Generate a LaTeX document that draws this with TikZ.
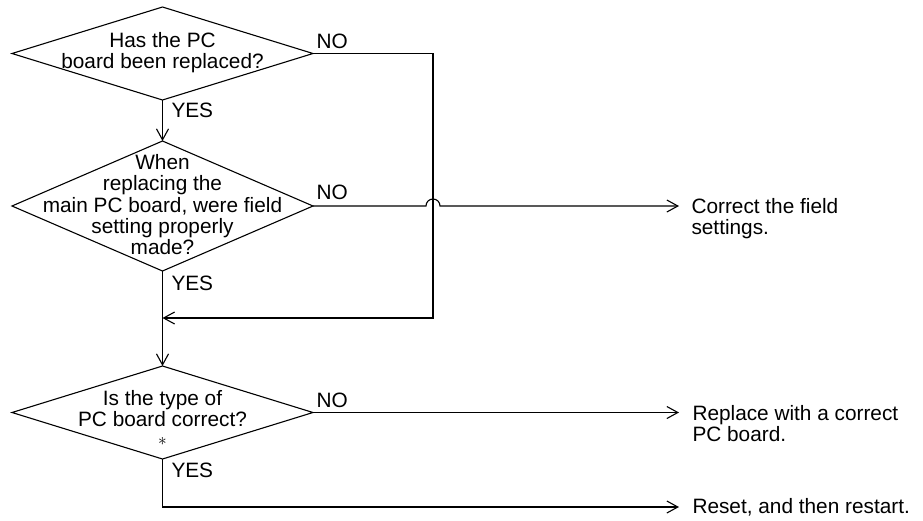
\documentclass[tikz,border=0pt]{standalone}
\usepackage{fontspec}
\setmainfont{Liberation Sans}
\usetikzlibrary{shapes.geometric,arrows.meta}

\tikzset{
  txt/.style={font=\fontsize{20.8}{20.8}\selectfont, inner sep=0pt, outer sep=0pt},
  decision/.style={draw, line width=1.1pt, shape=diamond, inner sep=0pt, outer sep=0pt,
    minimum width=301pt},
  flow/.style={line width=1.1pt},
  arr/.style={flow, -{Straight Barb[length=11pt,width=12pt,line width=1.1pt]}},
}

\begin{document}
\begin{tikzpicture}[x=1pt,y=-1pt]
  \useasboundingbox (0,0) rectangle (923,520);

  % decisions
  \node[decision, minimum height=93pt]  (d1) at (162.5,53.5) {};
  \node[decision, minimum height=130pt] (d2) at (162.5,206) {};
  \node[decision, minimum height=93pt]  (d3) at (162.5,412.5) {};

  % questions
  \node[txt, anchor=base] (q1) at (162.5,47)
    {\begin{tabular}[t]{@{}c@{}}Has the PC\\board been replaced?\end{tabular}};
  \node[txt, anchor=base] (q2) at (162.5,169.5)
    {\begin{tabular}[t]{@{}c@{}}When\\replacing the\\main PC board, were field\\setting properly\\made?\end{tabular}};
  \node[txt, anchor=base] (q3) at (162.5,405)
    {\begin{tabular}[t]{@{}c@{}}Is the type of\\PC board correct?\\[-1.5pt]{\fontsize{16}{16}\selectfont$\ast$}\end{tabular}};

  % branch labels
  \node[txt, anchor=base west] (no1)  at (316.5,48)  {NO};
  \node[txt, anchor=base west] (no2)  at (316.5,199) {NO};
  \node[txt, anchor=base west] (no3)  at (316.5,407) {NO};
  \node[txt, anchor=base west] (yes1) at (171.5,117) {YES};
  \node[txt, anchor=base west] (yes2) at (171.5,290) {YES};
  \node[txt, anchor=base west] (yes3) at (171.5,477) {YES};

  % actions
  \node[txt, anchor=base west] (a1) at (691.5,213)
    {\begin{tabular}[t]{@{}l@{}}Correct the field\\settings.\end{tabular}};
  \node[txt, anchor=base west] (a2) at (692.5,420.5)
    {\begin{tabular}[t]{@{}l@{}}Replace with a correct\\PC board.\end{tabular}};
  \node[txt, anchor=base west] (a3) at (692.5,513)
    {Reset, and then restart.};

  % arrow ends and routing points
  \coordinate (e1)    at (679,206);
  \coordinate (e2)    at (679,412.5);
  \coordinate (e3)    at (679,507);
  \coordinate (bus)   at (433,53.5);
  \coordinate (merge) at (162.5,318);
  \coordinate (cross) at (433,206);

  % YES paths
  \draw[arr] (d1.south) -- (d2.north);
  \draw[arr] (d2.south) -- (d3.north);
  \draw[arr] (d3.south) |- (e3);

  % NO of the first question joins the main line
  \draw[arr] (d1.east) -- (bus) |- (merge);

  % NO of the second question, hopping over the vertical line
  \draw[arr] (d2.east) -- ([xshift=-7pt]cross)
    .. controls ([xshift=-7pt,yshift=3.9pt]cross) and ([xshift=-3.9pt,yshift=7pt]cross) .. ([yshift=7pt]cross)
    .. controls ([xshift=3.9pt,yshift=7pt]cross) and ([xshift=7pt,yshift=3.9pt]cross) .. ([xshift=7pt]cross)
    -- (e1);

  % NO of the third question
  \draw[arr] (d3.east) -- (e2);
\end{tikzpicture}
\end{document}
